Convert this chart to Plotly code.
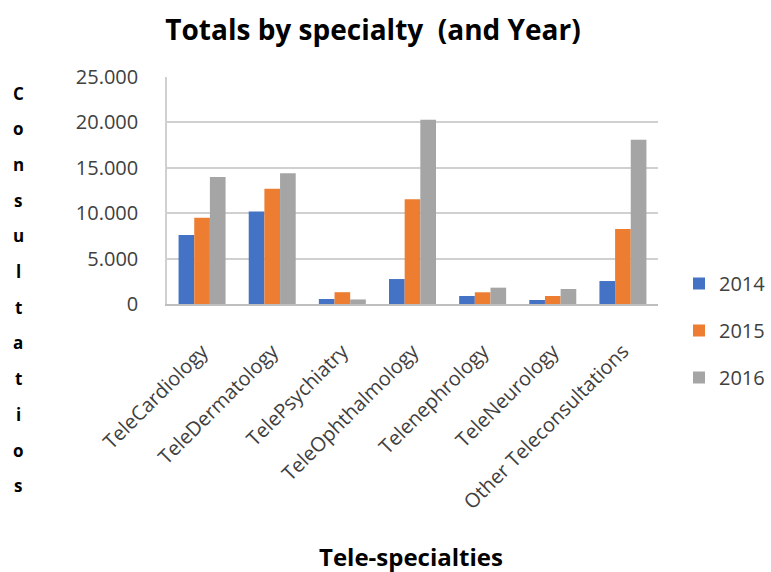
import plotly.graph_objects as go

categories = ["TeleCardiology", "TeleDermatology", "TelePsychiatry", "TeleOphthalmology",
              "Telenephrology", "TeleNeurology", "Other Teleconsultations"]
years = ["2014", "2015", "2016"]
v2014 = [7600, 10200, 550, 2750, 880, 440, 2530]
v2015 = [9500, 12700, 1300, 11550, 1290, 880, 8250]
v2016 = [14000, 14400, 500, 20300, 1800, 1650, 18100]
series = [v2014, v2015, v2016]
colors = ["#4472C4", "#ED7D31", "#A5A5A5"]
yticks = [0, 5000, 10000, 15000, 20000, 25000]
ytitle_letters = list("Consultatios")

FONT = "'Open Sans', Lato, sans-serif"

fig = go.Figure()
for name, vals, col in zip(years, series, colors):
    fig.add_trace(go.Bar(x=categories, y=vals, name=name, marker_color=col,
                         marker_line_width=0, legendgroup=name))

L, R, T, B = 167, 113, 77, 268
W, H = 771, 572
pw, ph = W - L - R, H - T - B

annotations = []
for i, ch in enumerate(ytitle_letters):
    ypx = 93 + i * 35.7
    annotations.append(dict(text=ch, xref="paper", yref="paper",
                            x=(18 - L) / pw, y=(H - B - ypx) / ph,
                            xanchor="center", yanchor="middle", showarrow=False,
                            font=dict(family=FONT, size=17, color="#000000", weight="bold")))
annotations.append(dict(text="Tele-specialties", xref="paper", yref="paper",
                        x=(411 - L) / pw, y=(H - B - 556) / ph,
                        xanchor="center", yanchor="middle", showarrow=False,
                        font=dict(family=FONT, size=24, color="#000000", weight="bold")))

fig.update_layout(
    width=W, height=H,
    margin=dict(l=L, r=R, t=T, b=B, autoexpand=False),
    paper_bgcolor="white", plot_bgcolor="white",
    separators=",.",
    barmode="group", bargap=0.33, bargroupgap=0,
    title=dict(text="Totals by specialty  (and Year)", x=373 / W, xanchor="center",
               y=1 - 30 / H, yanchor="middle",
               font=dict(family=FONT, size=28, color="#000000", weight="bold")),
    font=dict(family=FONT, color="#404040"),
    legend=dict(x=(679 - L) / pw, y=(H - B - 264) / ph, xanchor="left", yanchor="top",
                font=dict(family=FONT, size=20, color="#404040"),
                tracegroupgap=18, bgcolor="rgba(0,0,0,0)"),
    annotations=annotations,
    showlegend=True,
)
fig.update_xaxes(tickangle=-45, tickfont=dict(family=FONT, size=20, color="#404040"),
                 showline=True, linecolor="#BFBFBF", linewidth=1.5, ticks="",
                 showgrid=False, ticklabelstandoff=26, automargin=False)
fig.update_yaxes(range=[0, 25000], tickvals=yticks, tickformat=",",
                 tickfont=dict(family=FONT, size=20, color="#404040"),
                 showgrid=True, gridcolor="#D0D0D0", gridwidth=1.5,
                 showline=True, linecolor="#D0D0D0", linewidth=1.5, mirror=False,
                 zeroline=False, ticks="", ticklabelstandoff=23, automargin=False)

fig.write_html("out.html")
